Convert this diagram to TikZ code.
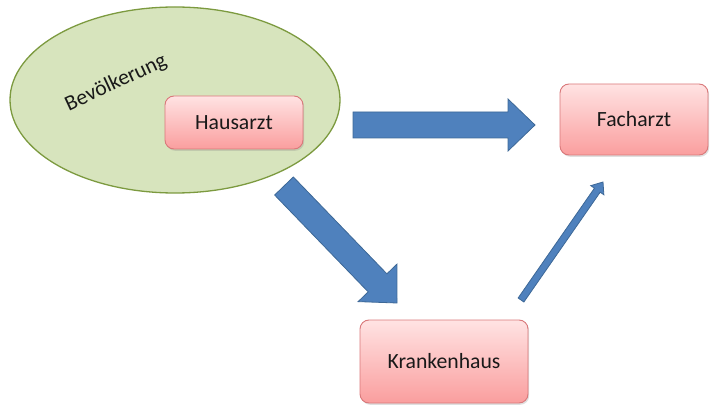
\documentclass[tikz,border=0pt]{standalone}
\usepackage{fontspec}
\setmainfont{Carlito}
\usetikzlibrary{calc,shadows,shapes.geometric}

\definecolor{popfill}{HTML}{D7E4BD}
\definecolor{popline}{HTML}{7C9A3F}
\definecolor{boxtop}{HTML}{FFE3E3}
\definecolor{boxbot}{HTML}{FA9E9E}
\definecolor{boxline}{HTML}{D9787A}
\definecolor{arrfill}{HTML}{4F81BD}
\definecolor{arrline}{HTML}{3D6897}

\tikzset{
  population/.style={ellipse, draw=popline, fill=popfill, line width=1.3pt,
    minimum width=330pt, minimum height=186pt, inner sep=0pt},
  carebox/.style={rectangle, rounded corners=9pt, draw=boxline, line width=0.9pt,
    top color=boxtop, bottom color=boxbot,
    drop shadow={opacity=0.25, shadow xshift=1.2pt, shadow yshift=-1.8pt},
    font=\fontsize{21.7}{26}\selectfont, text=black!90},
  blockarrow/.style={fill=arrfill, draw=arrline, line width=0.8pt, line join=miter},
  label/.style={font=\fontsize{21.7}{26}\selectfont, text=black!90}
}

% block arrow: tail, tip, shaft half width, head half width, head length
\newcommand\blockarr[5]{%
  \coordinate (hb) at ($(#2)!#5!(#1)$);
  \filldraw[blockarrow]
    ($(#1)!#3!90:(#2)$) -- ($(hb)!#3!90:(#2)$) -- ($(hb)!#4!90:(#2)$) --
    (#2) --
    ($(hb)!#4!-90:(#2)$) -- ($(hb)!#3!-90:(#2)$) -- ($(#1)!#3!-90:(#2)$) -- cycle;
}

\begin{document}
\begin{tikzpicture}[x=1pt,y=1pt]
\useasboundingbox (0,0) rectangle (710,405);

% population area with the family doctor inside
\node[population] (pop) at (175,305) {};
\node[label, rotate=25] (poplabel) at (116,322) {Bevölkerung};
\node[carebox, minimum width=138pt, minimum height=53pt] (hausarzt) at (234,282.5) {Hausarzt};

% specialist and hospital
\node[carebox, minimum width=148pt, minimum height=71pt] (facharzt) at (634,285.5) {Facharzt};
\node[carebox, minimum width=168pt, minimum height=83pt] (krankenhaus) at (444,43.5) {Krankenhaus};

% referral paths
\coordinate (a1tail) at (353,280);
\coordinate (a1tip) at (535,280);
\blockarr{a1tail}{a1tip}{13pt}{26pt}{27pt}

\coordinate (a2tail) at (284,219);
\coordinate (a2tip) at (397,102);
\blockarr{a2tail}{a2tip}{13pt}{27pt}{28pt}

\coordinate (a3tail) at (521,105);
\coordinate (a3tip) at (603,223);
\blockarr{a3tail}{a3tip}{3.5pt}{8pt}{10pt}
\end{tikzpicture}
\end{document}
